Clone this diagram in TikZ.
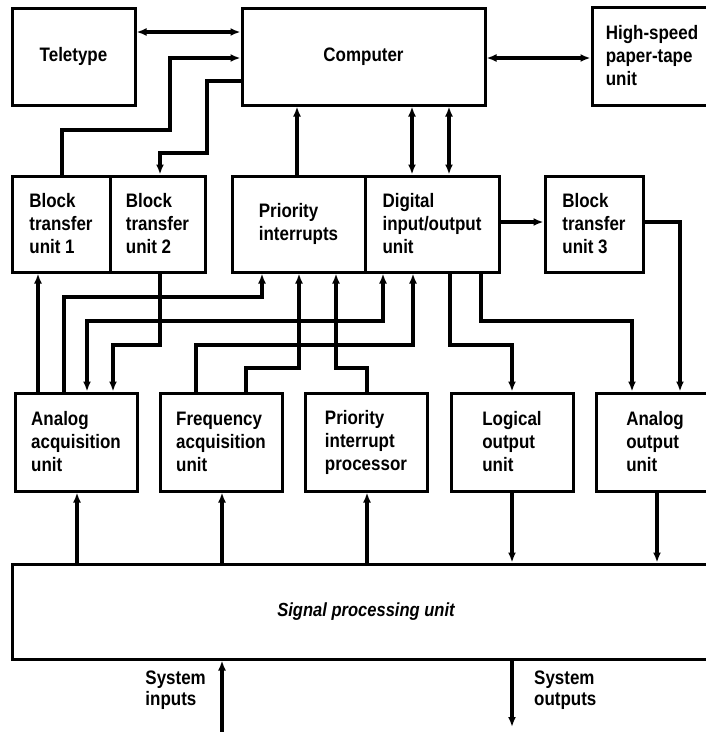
\documentclass[tikz,border=0pt]{standalone}
\usepackage{fontspec}
\setmainfont{Liberation Sans}[FakeStretch=0.87]
\usetikzlibrary{arrows.meta}
\tikzset{
  box/.style={draw,line width=3pt,inner sep=0pt,align=left,
    font=\fontsize{19.5}{23}\selectfont\bfseries},
  wire/.style={line width=3.8pt,line cap=butt},
}
\begin{document}
\begin{tikzpicture}[x=1pt,y=-1pt,>={Latex[length=10pt,width=8pt]}]
\clip (0,0) rectangle (706,732);
\fill[white] (0,0) rectangle (706,732);
% top row
\node[box,minimum width=123pt,minimum height=97pt] (tele) at (73.5,56.5) {Teletype};
\node[box,minimum width=243pt,minimum height=97pt] (comp) at (363.5,56.5) {Computer};
\node[box,minimum width=120pt,minimum height=98pt] (hs) at (652,56) {High-speed\\paper-tape\\unit};
% second row
\node[box,minimum width=98pt,minimum height=96pt] (b1) at (61,224) {Block\\transfer\\unit 1};
\node[box,minimum width=95pt,minimum height=96pt] (b2) at (157.5,224) {Block\\transfer\\unit 2};
\node[box,minimum width=133pt,minimum height=96pt] (pi) at (298.5,224) {Priority\\interrupts};
\node[box,minimum width=134pt,minimum height=96pt] (dio) at (432,224) {Digital\\input/output\\unit};
\node[box,minimum width=98pt,minimum height=96pt] (b3) at (594,224) {Block\\transfer\\unit 3};
% third row
\node[box,minimum width=122pt,minimum height=98pt] (aa) at (76,442) {Analog\\acquisition\\unit};
\node[box,minimum width=122pt,minimum height=98pt] (fa) at (221,442) {Frequency\\acquisition\\unit};
\node[box,minimum width=122pt,minimum height=98pt] (pip) at (366,442) {Priority\\interrupt\\processor};
\node[box,minimum width=122pt,minimum height=98pt] (lo) at (512,442) {Logical\\output\\unit};
\node[box,minimum width=118pt,minimum height=98pt] (ao) at (655,442) {Analog\\output\\unit};
% signal processing
\node[box,minimum width=708pt,minimum height=95pt,font=\fontsize{19}{22}\selectfont\bfseries\itshape] (spu) at (366,611.5) {Signal processing unit};
% labels
\node[align=left,anchor=east,inner sep=0pt,font=\fontsize{19.5}{21}\selectfont\bfseries] (sin) at (206,690) {System\\inputs};
\node[align=left,anchor=west,inner sep=0pt,font=\fontsize{19.5}{21}\selectfont\bfseries] (sout) at (534,690) {System\\outputs};
\coordinate (inbot) at (222,732);
\coordinate (outbot) at (512,727);
% top connectors
\draw[wire,<->] (tele.east |- 0,32) -- (comp.west |- 0,32);
\draw[wire,<->] (comp.east |- 0,58) -- (hs.west |- 0,58);
\draw[wire,->] (62,0 |- b1.north) |- (170,130) |- (comp.west |- 0,58);
\draw[wire,->] (comp.west |- 0,81) -| (207,153) -| (160,0 |- b2.north);
\draw[wire,->] (297,0 |- pi.north) -- (297,0 |- comp.south);
\draw[wire,<->] (412,0 |- dio.north) -- (412,0 |- comp.south);
\draw[wire,<->] (449,0 |- dio.north) -- (449,0 |- comp.south);
\draw[wire,->] (dio.east |- 0,222) -- (b3.west |- 0,222);
\draw[wire,->] (b3.east |- 0,222) -| (680,0 |- ao.north);
% middle wiring
\draw[wire,->] (38,0 |- aa.north) -- (38,0 |- b1.south);
\draw[wire,->] (64,0 |- aa.north) |- (262,297) -- (262,0 |- pi.south);
\draw[wire,<->] (87,0 |- aa.north) |- (383,321) -- (383,0 |- dio.south);
\draw[wire,->] (160,0 |- b2.south) |- (113,345) -- (113,0 |- aa.north);
\draw[wire,->] (196,0 |- fa.north) |- (413,345) -- (413,0 |- dio.south);
\draw[wire,->] (246,0 |- fa.north) |- (299,368) -- (299,0 |- pi.south);
\draw[wire,->] (367,0 |- pip.north) |- (336,368) -- (336,0 |- pi.south);
\draw[wire,->] (450,0 |- dio.south) |- (512,345) -- (512,0 |- lo.north);
\draw[wire,->] (481,0 |- dio.south) |- (632,321) -- (632,0 |- ao.north);
% bottom wiring
\draw[wire,->] (77,0 |- spu.north) -- (77,0 |- aa.south);
\draw[wire,->] (222,0 |- spu.north) -- (222,0 |- fa.south);
\draw[wire,->] (367,0 |- spu.north) -- (367,0 |- pip.south);
\draw[wire,->] (512,0 |- lo.south) -- (512,0 |- spu.north);
\draw[wire,->] (657,0 |- ao.south) -- (657,0 |- spu.north);
\draw[wire,->] (inbot) -- (inbot |- spu.south);
\draw[wire,->] (outbot |- spu.south) -- (outbot);
\end{tikzpicture}
\end{document}
